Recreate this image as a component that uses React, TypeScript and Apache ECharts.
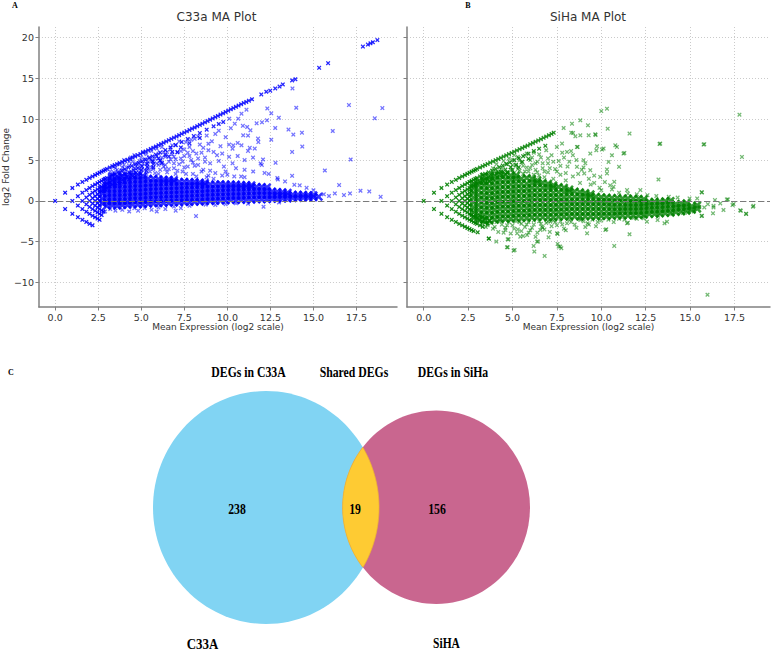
import React, { useEffect, useRef } from 'react';
import * as echarts from 'echarts';

// ---------- axis ticks ----------
const xTicks = [0, 2.5, 5, 7.5, 10, 12.5, 15, 17.5];
const yTicks = [-10, -5, 0, 5, 10, 15, 20];

// ---------- C33a (panel A) ----------
const c33aCore = [
  [2.75,-0.3],[2.75,0.3],[2.75,0.9],[2.75,1.5],
  [3.0,-0.6],[3.0,-0.1],[3.0,0.4],[3.0,0.9],[3.0,1.4],[3.0,1.9],[3.0,2.4],
  [3.3,-0.5],[3.3,0.0],[3.3,0.5],[3.3,1.0],[3.3,1.5],[3.3,2.0],[3.3,2.5],[3.3,2.95],
  [3.6,-0.6],[3.6,-0.1],[3.6,0.4],[3.6,0.9],[3.6,1.4],[3.6,1.9],[3.6,2.4],[3.6,2.9],
  [3.9,-0.5],[3.9,0.0],[3.9,0.5],[3.9,1.0],[3.9,1.5],[3.9,2.0],[3.9,2.5],[3.9,3.05],
  [4.2,-0.5],[4.2,-0.05],[4.2,0.45],[4.2,0.95],[4.2,1.45],[4.2,1.95],[4.2,2.45],[4.2,2.95],
  [4.5,-0.4],[4.5,0.1],[4.5,0.6],[4.5,1.1],[4.5,1.6],[4.5,2.1],[4.5,2.6],[4.5,3.1],
  [4.8,-0.45],[4.8,0.05],[4.8,0.55],[4.8,1.05],[4.8,1.55],[4.8,2.05],[4.8,2.55],[4.8,3.0],
  [5.1,-0.4],[5.1,0.1],[5.1,0.6],[5.1,1.1],[5.1,1.6],[5.1,2.1],[5.1,2.6],[5.1,3.05],
  [5.4,-0.35],[5.4,0.15],[5.4,0.65],[5.4,1.15],[5.4,1.65],[5.4,2.15],[5.4,2.7],
  [5.7,-0.3],[5.7,0.2],[5.7,0.7],[5.7,1.2],[5.7,1.7],[5.7,2.2],[5.7,2.7],
  [6.0,-0.3],[6.0,0.2],[6.0,0.7],[6.0,1.2],[6.0,1.7],[6.0,2.2],[6.0,2.65],
  [6.3,-0.25],[6.3,0.25],[6.3,0.75],[6.3,1.25],[6.3,1.75],[6.3,2.25],[6.3,2.6],
  [6.6,-0.25],[6.6,0.25],[6.6,0.75],[6.6,1.25],[6.6,1.75],[6.6,2.25],[6.6,2.6],
  [6.9,-0.2],[6.9,0.3],[6.9,0.8],[6.9,1.3],[6.9,1.8],[6.9,2.3],[6.9,2.55],
  [7.2,-0.2],[7.2,0.3],[7.2,0.8],[7.2,1.3],[7.2,1.8],[7.2,2.3],
  [7.5,-0.15],[7.5,0.35],[7.5,0.85],[7.5,1.35],[7.5,1.85],[7.5,2.35],
  [7.8,-0.15],[7.8,0.35],[7.8,0.85],[7.8,1.35],[7.8,1.85],[7.8,2.3],
  [8.1,-0.1],[8.1,0.4],[8.1,0.9],[8.1,1.4],[8.1,1.9],[8.1,2.3],
  [8.4,-0.1],[8.4,0.4],[8.4,0.9],[8.4,1.4],[8.4,1.9],[8.4,2.25],
  [8.7,-0.05],[8.7,0.45],[8.7,0.95],[8.7,1.45],[8.7,1.95],[8.7,2.2],
  [9.0,0.0],[9.0,0.5],[9.0,1.0],[9.0,1.5],[9.0,2.0],
  [9.3,0.0],[9.3,0.5],[9.3,1.0],[9.3,1.5],[9.3,2.0],
  [9.6,0.05],[9.6,0.55],[9.6,1.05],[9.6,1.55],[9.6,2.05],
  [9.9,0.05],[9.9,0.55],[9.9,1.05],[9.9,1.55],[9.9,2.0],
  [10.2,0.1],[10.2,0.6],[10.2,1.1],[10.2,1.6],[10.2,2.0],
  [10.5,0.1],[10.5,0.6],[10.5,1.1],[10.5,1.6],[10.5,2.0],
  [10.8,0.1],[10.8,0.6],[10.8,1.1],[10.8,1.6],[10.8,1.95],
  [11.1,0.15],[11.1,0.65],[11.1,1.15],[11.1,1.65],[11.1,1.95],
  [11.4,0.15],[11.4,0.65],[11.4,1.15],[11.4,1.65],[11.4,1.9],
  [11.7,0.2],[11.7,0.7],[11.7,1.2],[11.7,1.7],
  [12.0,0.2],[12.0,0.7],[12.0,1.2],[12.0,1.7],
  [12.3,0.2],[12.3,0.7],[12.3,1.2],[12.3,1.65],
  [12.6,0.25],[12.6,0.7],[12.6,1.15],
  [12.9,0.25],[12.9,0.7],[12.9,1.1],
  [13.2,0.3],[13.2,0.7],[13.2,1.05],
  [13.5,0.3],[13.5,0.7],[13.5,1.0],
  [13.8,0.35],[13.8,0.75],
  [14.1,0.35],[14.1,0.75],
  [14.4,0.4],[14.4,0.75],
  [14.7,0.4],[14.7,0.7],
  [15.0,0.45],[15.0,0.7],
  [15.3,0.5]
];

const c33aLattice = [
  [0,0],
  [0.58,1.0],[0.58,-1.0],
  [1.0,1.58],[1.0,0],[1.0,-1.58],
  [1.32,2.0],[1.32,0.58],[1.32,-0.58],[1.32,-2.0],
  [1.58,2.32],[1.58,1.0],[1.58,0],[1.58,-1.0],[1.58,-2.32],
  [1.81,2.58],[1.81,1.32],[1.81,0.42],[1.81,-0.42],[1.81,-1.32],[1.81,-2.58],
  [2.0,2.81],[2.0,1.58],[2.0,0.74],[2.0,0],[2.0,-0.74],[2.0,-1.58],[2.0,-2.81],
  [2.17,3.0],[2.17,1.81],[2.17,1.0],[2.17,0.32],[2.17,-0.32],[2.17,-1.0],[2.17,-1.81],[2.17,-3.0],
  [2.32,3.17],[2.32,2.0],[2.32,1.22],[2.32,0.58],[2.32,0],[2.32,-0.58],[2.32,-1.22],[2.32,-2.0],
  [2.46,3.32],[2.46,2.17],[2.46,1.42],[2.46,0.81],[2.46,0.26],[2.46,-0.26],[2.46,-0.81],[2.46,-1.42],[2.46,-2.17],
  [2.58,3.46],[2.58,2.32],[2.58,1.58],[2.58,1.0],[2.58,0.49],[2.58,0],[2.58,-0.49],[2.58,-1.0],[2.58,-1.58],[2.58,-2.32],
  [2.7,3.58],[2.7,2.46],[2.7,1.74],[2.7,1.17],[2.7,-1.17],[2.7,-1.74],
  [2.81,3.7],[2.81,2.58],[2.81,1.87],[2.81,1.32],[2.81,-1.32],
  [2.91,3.81],[2.91,2.7],[2.91,2.0],[2.91,1.46]
];

const c33aLines = [
  // top diagonal
  [3.0,3.91],[3.17,4.09],[3.32,4.25],[3.46,4.39],[3.6,4.5],[3.75,4.64],[3.9,4.77],[4.05,4.9],[4.2,5.04],[4.35,5.17],
  [4.5,5.31],[4.65,5.45],[4.8,5.6],[4.95,5.75],[5.1,5.9],[5.25,6.05],[5.4,6.2],[5.55,6.36],[5.7,6.51],[5.85,6.66],
  [6.0,6.82],[6.15,6.97],[6.3,7.12],[6.45,7.28],[6.6,7.43],[6.75,7.59],[6.9,7.74],[7.05,7.9],[7.2,8.05],[7.35,8.21],
  [7.5,8.37],[7.65,8.52],[7.8,8.68],[7.95,8.84],[8.1,8.99],[8.25,9.15],[8.4,9.31],[8.55,9.46],[8.7,9.62],[8.85,9.78],
  [9.0,9.94],[9.15,10.1],[9.3,10.26],[9.45,10.41],[9.6,10.57],[9.75,10.73],[9.9,10.89],[10.05,11.05],[10.2,11.21],
  [10.35,11.37],[10.5,11.52],[10.65,11.68],[10.8,11.84],[10.95,12.0],[11.1,12.12],[11.25,12.28],[11.43,12.45],
  [11.97,13.04],[12.26,13.37],[12.49,13.5],[12.78,13.77],[13.03,14.0],[13.22,14.26],[13.76,14.75],[13.95,14.9],
  [15.33,16.3],[15.85,16.87],[17.87,18.9],[18.16,19.15],[18.31,19.3],[18.45,19.43],[18.71,19.7],
  // second diagonal
  [3.0,2.81],[3.17,3.0],[3.32,3.17],[3.46,3.32],[3.65,3.5],[3.85,3.7],[4.05,3.9],[4.25,4.1],[4.45,4.28],[4.65,4.45],
  [4.85,4.65],[5.05,4.85],[5.25,5.05],[5.45,5.25],[5.65,5.45],[5.85,5.66],[6.1,5.92],[6.4,6.22],[6.7,6.54],[7.0,6.85],
  [7.35,7.21],[7.7,7.58],[8.05,7.94],[8.4,8.31],[8.8,8.72],[9.2,9.13],[9.5,9.42],[9.76,9.66],
  // third diagonal
  [3.0,2.12],[3.17,2.32],[3.32,2.5],[3.46,2.66],[3.65,2.85],[3.85,3.05],[4.05,3.25],[4.3,3.5],[4.55,3.75],[4.8,4.0],
  [5.05,4.25],[5.35,4.55],[5.65,4.85],[6.0,5.2],[6.4,5.62],[6.8,6.0],[7.3,6.55],[7.8,7.05],[8.4,7.7],
  // fourth diagonal
  [3.0,1.58],[3.17,1.81],[3.32,2.0],[3.46,2.17],[3.7,2.43],[3.91,2.66],[4.15,2.9],[4.4,3.15],[4.7,3.45],[5.0,3.8],
  [5.35,4.15],[5.7,4.5],[6.1,4.9],[6.6,5.45],[7.1,5.95],
  // fifth diagonal
  [3.5,1.85],[3.75,2.1],[4.0,2.35],[4.3,2.65],[4.6,2.95],[4.95,3.3],[5.3,3.7],[5.7,4.1],[6.2,4.6]
];

const c33aScatter = [
  [3.4,3.5],[3.6,3.8],[3.8,3.4],[3.9,4.1],[4.1,3.7],[4.3,4.3],[4.4,3.6],[4.6,4.0],[4.7,4.6],[4.9,3.5],
  [4.9,4.9],[5.0,4.2],[5.2,3.8],[5.2,5.1],[5.3,4.5],[5.5,3.6],[5.5,5.3],[5.6,4.1],[5.7,4.8],[5.8,3.4],
  [5.9,5.5],[6.0,4.4],[6.1,3.8],[6.1,5.0],[6.3,6.0],[6.3,4.2],[6.4,5.4],[6.5,3.5],[6.6,4.8],[6.7,6.3],
  [6.8,5.7],[6.9,4.0],[7.0,5.1],[7.0,6.8],[7.2,4.5],[7.3,6.1],[7.4,3.6],[7.5,5.5],[7.6,7.2],[7.7,4.2],
  [7.8,6.6],[7.9,5.0],[8.0,3.3],[8.1,7.6],[8.2,5.8],[8.3,4.4],[8.4,6.9],[8.6,3.8],[8.7,5.3],[8.8,8.0],
  [8.9,6.2],[9.0,4.6],[9.1,7.3],[9.3,3.4],[9.4,5.6],[9.5,8.6],[9.6,6.7],[9.8,4.2],[9.9,7.8],[10.0,3.2],
  [10.1,5.4],[10.2,8.9],[10.3,6.4],[10.5,4.0],[10.6,7.1],[10.8,3.0],[10.9,9.2],[11.0,5.0],[11.2,8.0],[11.3,6.5],
  [11.5,3.6],[11.7,9.5],[11.8,7.2],[12.0,4.4],
  [3.3,3.2],[3.5,4.0],[3.7,3.3],[4.0,4.4],[4.2,3.3],[4.5,4.8],[4.8,3.3],[5.0,5.3],[5.4,4.0],[5.6,5.0],
  [5.9,4.6],[6.2,5.3],[6.4,3.9],[6.9,5.4],[7.1,3.7],[7.4,4.8],[7.7,5.9],[8.0,4.7],[8.5,5.9],[8.9,3.1],
  [3.2,3.6],[3.4,4.2],[3.6,3.1],[3.7,4.5],[3.9,3.7],[4.0,5.0],[4.1,3.2],[4.3,4.8],[4.4,5.3],[4.5,3.4],
  [4.6,5.6],[4.7,3.9],[4.8,4.4],[5.0,3.7],[5.1,4.6],[5.1,6.0],[5.3,3.3],[5.3,5.7],[5.4,4.8],[5.6,6.1],
  [5.7,3.9],[5.8,5.2],[5.9,6.4],[6.0,3.3],[6.0,5.8],[6.2,4.7],[6.2,6.6],[6.4,4.4],[6.5,6.0],[6.6,3.9],
  [6.7,5.1],[6.8,6.8],[6.9,4.6],[7.0,3.3],[7.1,6.0],[7.2,7.3],[7.3,5.2],[7.5,4.1],[7.5,6.3],[7.6,3.3],
  [7.8,5.5],[7.9,7.5],[8.0,6.1],[8.1,4.3],[8.3,5.2],[8.3,7.9],[8.5,3.6],[8.6,6.5],[8.7,4.8],[8.9,7.0],
  [9.0,3.7],[9.2,6.0],[9.3,8.2],[9.5,4.9],[9.7,5.8],[9.9,3.6],[10.1,6.9],[10.3,4.6],[10.6,5.5],[11.0,3.8],
  [11.11,11.17],[10.82,10.68],[10.63,10.07],[10.11,10.07],[10.43,9.46],[11.15,9.05],[10.92,8.03],[11.34,8.64],
  [11.78,7.63],[11.59,6.41],[11.2,6.12],[10.82,6.81],[10.34,6.81],[11.93,4.58],[11.49,5.31],[12.16,3.43],[12.93,2.62],
  [12.07,5.07],[12.3,9.87],[12.01,9.62],[12.78,8.93],[12.55,7.5],[12.32,11.33],[12.55,10.72],[12.99,10.19],
  [12.8,4.66],[13.55,8.73],[13.83,8.12],[14.33,8.36],[14.35,6.65],[13.76,6.0],[13.76,3.07],[13.89,1.97],[13.35,2.38],
  [13.78,13.77],[14.0,11.41],[17.06,11.74],[18.56,10.11],[19.0,11.37],[16.12,8.56],[17.16,5.07],[15.66,3.72],
  [16.49,1.93],[17.73,1.24],[18.24,1.16],[18.9,0.5],[17.12,0.91],[16.77,0.71],[16.24,0.91],[15.9,0.6],[15.6,0.8],
  [15.0,1.3],[14.6,1.6],[14.2,1.9],[12.9,2.8],[12.4,3.3],[11.0,2.9],[10.4,3.0],[9.7,3.1],[9.2,2.7],[8.8,2.9],[8.2,3.0],
  [3.2,-1.0],[3.5,-1.2],[3.9,-1.1],[4.3,-1.3],[4.82,-1.2],[5.2,-0.9],[5.6,-1.1],[6.0,-0.8],[6.4,-1.0],[6.9,-0.7],
  [7.3,-0.9],[7.8,-0.6],[8.18,-1.86],[8.74,-0.47],[9.3,-0.5],[9.9,-0.4],[10.5,-0.3],[11.2,-0.35],[12.1,-0.72],
  [13.0,-0.2],[2.9,-1.3],[4.6,-0.9],[5.9,-1.3],[7.0,-1.2]
];

// ---------- SiHa (panel B) ----------
const sihaCore = [
  [2.8,-2.0],[2.8,-1.4],[2.8,-0.8],[2.8,-0.2],[2.8,0.4],[2.8,1.0],[2.8,1.6],[2.8,2.1],
  [3.1,-2.3],[3.1,-1.7],[3.1,-1.1],[3.1,-0.5],[3.1,0.1],[3.1,0.7],[3.1,1.3],[3.1,1.9],[3.1,2.4],
  [3.4,-2.3],[3.4,-1.7],[3.4,-1.1],[3.4,-0.5],[3.4,0.1],[3.4,0.7],[3.4,1.3],[3.4,1.9],[3.4,2.5],[3.4,3.0],
  [3.7,-2.4],[3.7,-1.8],[3.7,-1.2],[3.7,-0.6],[3.7,0.0],[3.7,0.6],[3.7,1.2],[3.7,1.8],[3.7,2.4],[3.7,3.0],
  [4.0,-2.3],[4.0,-1.7],[4.0,-1.1],[4.0,-0.5],[4.0,0.1],[4.0,0.7],[4.0,1.3],[4.0,1.9],[4.0,2.5],[4.0,3.1],
  [4.3,-2.2],[4.3,-1.6],[4.3,-1.0],[4.3,-0.4],[4.3,0.2],[4.3,0.8],[4.3,1.4],[4.3,2.0],[4.3,2.6],[4.3,3.2],
  [4.6,-2.2],[4.6,-1.6],[4.6,-1.0],[4.6,-0.4],[4.6,0.2],[4.6,0.8],[4.6,1.4],[4.6,2.0],[4.6,2.6],[4.6,3.2],
  [4.9,-2.2],[4.9,-1.6],[4.9,-1.0],[4.9,-0.4],[4.9,0.2],[4.9,0.8],[4.9,1.4],[4.9,2.0],[4.9,2.6],[4.9,3.1],
  [5.2,-2.1],[5.2,-1.5],[5.2,-0.9],[5.2,-0.3],[5.2,0.3],[5.2,0.9],[5.2,1.5],[5.2,2.1],[5.2,2.7],[5.2,3.1],
  [5.5,-2.1],[5.5,-1.5],[5.5,-0.9],[5.5,-0.3],[5.5,0.3],[5.5,0.9],[5.5,1.5],[5.5,2.1],[5.5,2.7],
  [5.8,-2.1],[5.8,-1.5],[5.8,-0.9],[5.8,-0.3],[5.8,0.3],[5.8,0.9],[5.8,1.5],[5.8,2.1],[5.8,2.8],
  [6.1,-2.0],[6.1,-1.4],[6.1,-0.8],[6.1,-0.2],[6.1,0.4],[6.1,1.0],[6.1,1.6],[6.1,2.2],[6.1,2.7],
  [6.4,-2.0],[6.4,-1.4],[6.4,-0.8],[6.4,-0.2],[6.4,0.4],[6.4,1.0],[6.4,1.6],[6.4,2.2],[6.4,2.5],
  [6.7,-2.0],[6.7,-1.4],[6.7,-0.8],[6.7,-0.2],[6.7,0.4],[6.7,1.0],[6.7,1.6],[6.7,2.2],
  [7.0,-2.0],[7.0,-1.4],[7.0,-0.8],[7.0,-0.2],[7.0,0.4],[7.0,1.0],[7.0,1.6],[7.0,2.1],
  [7.3,-2.0],[7.3,-1.4],[7.3,-0.8],[7.3,-0.2],[7.3,0.4],[7.3,1.0],[7.3,1.6],[7.3,1.9],
  [7.6,-1.95],[7.6,-1.35],[7.6,-0.75],[7.6,-0.15],[7.6,0.45],[7.6,1.05],[7.6,1.7],
  [7.9,-1.95],[7.9,-1.35],[7.9,-0.75],[7.9,-0.15],[7.9,0.45],[7.9,1.05],[7.9,1.6],
  [8.2,-1.9],[8.2,-1.3],[8.2,-0.7],[8.2,-0.1],[8.2,0.5],[8.2,1.1],[8.2,1.4],
  [8.5,-1.9],[8.5,-1.3],[8.5,-0.7],[8.5,-0.1],[8.5,0.5],[8.5,1.15],
  [8.8,-1.9],[8.8,-1.3],[8.8,-0.7],[8.8,-0.1],[8.8,0.5],[8.8,1.05],
  [9.1,-1.9],[9.1,-1.3],[9.1,-0.7],[9.1,-0.1],[9.1,0.5],[9.1,0.95],
  [9.4,-1.9],[9.4,-1.3],[9.4,-0.7],[9.4,-0.1],[9.4,0.5],[9.4,0.8],
  [9.7,-1.9],[9.7,-1.3],[9.7,-0.7],[9.7,-0.1],[9.7,0.5],
  [10.0,-1.85],[10.0,-1.3],[10.0,-0.7],[10.0,-0.1],[10.0,0.45],
  [10.3,-1.85],[10.3,-1.3],[10.3,-0.7],[10.3,-0.15],[10.3,0.4],
  [10.6,-1.85],[10.6,-1.3],[10.6,-0.75],[10.6,-0.2],[10.6,0.35],
  [10.9,-1.8],[10.9,-1.3],[10.9,-0.75],[10.9,-0.2],[10.9,0.35],
  [11.2,-1.8],[11.2,-1.25],[11.2,-0.75],[11.2,-0.2],[11.2,0.3],
  [11.5,-1.8],[11.5,-1.25],[11.5,-0.75],[11.5,-0.25],[11.5,0.3],
  [11.8,-1.75],[11.8,-1.25],[11.8,-0.75],[11.8,-0.25],[11.8,0.25],
  [12.1,-1.75],[12.1,-1.25],[12.1,-0.75],[12.1,-0.25],[12.1,0.25],
  [12.4,-1.7],[12.4,-1.2],[12.4,-0.7],[12.4,-0.25],[12.4,0.2],
  [12.7,-1.6],[12.7,-1.1],[12.7,-0.6],[12.7,-0.15],
  [13.0,-1.6],[13.0,-1.1],[13.0,-0.6],[13.0,-0.1],
  [13.3,-1.55],[13.3,-1.05],[13.3,-0.55],[13.3,-0.1],
  [13.6,-1.5],[13.6,-1.0],[13.6,-0.5],[13.6,-0.05],
  [13.9,-1.45],[13.9,-0.95],[13.9,-0.45],[13.9,0.0],
  [14.2,-1.35],[14.2,-0.85],[14.2,-0.4],
  [14.5,-1.3],[14.5,-0.8],[14.5,-0.35],
  [14.8,-1.2],[14.8,-0.75],[14.8,-0.3],
  [15.1,-1.1],[15.1,-0.65],
  [15.4,-0.95],[15.4,-0.55]
];

const sihaLattice = [
  [0,0],
  [0.58,1.0],[0.58,-1.0],
  [1.0,1.58],[1.0,0],[1.0,-1.58],
  [1.32,2.0],[1.32,0.58],[1.32,-0.58],[1.32,-2.0],
  [1.58,2.32],[1.58,1.0],[1.58,0],[1.58,-1.0],[1.58,-2.32],
  [1.81,2.58],[1.81,1.32],[1.81,0.42],[1.81,-0.42],[1.81,-1.32],[1.81,-2.58],
  [2.0,2.81],[2.0,1.58],[2.0,0.74],[2.0,0],[2.0,-0.74],[2.0,-1.58],[2.0,-2.81],
  [2.17,3.0],[2.17,1.81],[2.17,1.0],[2.17,0.32],[2.17,-0.32],[2.17,-1.0],[2.17,-1.81],[2.17,-3.0],
  [2.32,3.17],[2.32,2.0],[2.32,1.22],[2.32,0.58],[2.32,0],[2.32,-0.58],[2.32,-1.22],[2.32,-2.0],[2.32,-3.17],
  [2.46,3.32],[2.46,2.17],[2.46,1.42],[2.46,0.81],[2.46,0.26],[2.46,-0.26],[2.46,-0.81],[2.46,-1.42],[2.46,-2.17],[2.46,-3.32],
  [2.58,3.46],[2.58,2.32],[2.58,1.58],[2.58,1.0],[2.58,0.49],[2.58,0],[2.58,-0.49],[2.58,-1.0],[2.58,-1.58],[2.58,-2.32],[2.58,-3.46],
  [2.7,3.58],[2.7,2.46],[2.7,1.74],[2.7,1.17],[2.7,-1.17],[2.7,-1.74],[2.7,-2.46],[2.7,-3.58],
  [2.81,3.7],[2.81,2.58],[2.81,1.87],[2.81,-1.87],[2.81,-2.58],[2.81,-3.7],
  [2.91,3.81],[2.91,2.7],[2.91,2.0],[2.91,-2.0],[2.91,-2.7],
  [3.0,-2.12],[3.0,-2.81],[3.04,-3.85],[3.17,-2.32],[3.17,-3.0],[3.32,-2.5],[3.32,-3.17],[3.46,-2.66],[3.66,-4.62],
  [3.17,-1.81],[3.32,-2.0],[3.46,-2.17],[3.6,-2.8],[3.7,-2.43]
];

const sihaLines = [
  // top diagonal
  [3.0,3.91],[3.17,4.09],[3.32,4.25],[3.46,4.39],[3.6,4.53],[3.75,4.68],[3.9,4.83],[4.05,4.98],[4.2,5.13],[4.35,5.28],
  [4.5,5.43],[4.65,5.58],[4.8,5.73],[4.95,5.88],[5.1,6.03],[5.25,6.18],[5.4,6.33],[5.55,6.48],[5.7,6.63],[5.85,6.78],
  [6.0,6.94],[6.15,7.09],[6.3,7.25],[6.45,7.4],[6.6,7.56],[6.75,7.72],[6.9,7.88],[7.05,8.04],[7.2,8.2],[7.32,8.36],
  // second diagonal
  [3.0,2.81],[3.17,3.0],[3.32,3.17],[3.46,3.32],[3.65,3.5],[3.85,3.7],[4.05,3.92],[4.25,4.12],[4.45,4.32],[4.65,4.52],
  [4.85,4.72],[5.1,4.98],[5.35,5.23],[5.6,5.48],[5.9,5.78],[6.2,6.1],[6.5,6.4],[6.85,6.75],
  // third diagonal
  [3.0,2.12],[3.17,2.32],[3.32,2.5],[3.46,2.66],[3.65,2.87],[3.85,3.07],[4.1,3.32],[4.35,3.57],[4.6,3.83],[4.9,4.13],
  [5.2,4.43],[5.55,4.78],[5.9,5.15],
  // fourth diagonal
  [3.46,2.17],[3.7,2.43],[3.91,2.66],[4.15,2.9],[4.4,3.15],[4.7,3.45],[5.0,3.78],[5.35,4.13]
];

const sihaScatter = [
  [10.0,11.0],[10.32,11.29],[17.78,10.56],[17.92,5.39],[15.8,6.94],[13.32,7.02],[11.59,8.24],[13.22,2.62],[15.65,1.07],
  [10.36,8.85],[9.25,9.25],[8.82,9.87],[8.35,9.46],[7.88,8.93],[8.31,8.36],[8.82,8.03],[9.29,8.03],[9.66,8.16],
  [9.76,6.69],[10.04,6.29],[10.79,6.81],[11.3,5.88],[11.0,4.17],[10.6,5.59],[10.32,3.85],[9.94,2.94],[8.63,6.61],
  [9.0,4.98],[9.38,3.76],[10.69,1.72],[11.45,1.32],[12.2,1.32],[14.97,0.3],[17.07,0.18],[17.39,-0.51],[17.86,-1.21],
  [18.16,-1.61],[18.54,-0.72],[16.7,-0.31],[16.32,-0.8],[15.65,-1.86],[14.86,-1.45],[13.56,-2.75],[13.17,-2.35],
  [11.59,-4.09],[10.28,-3.48],[10.73,-5.52],[11.5,-2.67],[12.38,-2.14],[6.81,-6.74],[6.19,-5.52],[6.23,-6.21],
  [5.06,-6.09],[4.73,-5.68],[4.73,-4.7],[5.44,-4.38],[5.91,-3.89],[6.44,-4.99],[7.03,-4.46],[7.54,-4.05],[7.69,-5.6],
  [7.54,-5.27],[6.66,-3.16],[7.13,-2.55],[8.07,-2.75],[9.23,-2.75],[8.82,-2.35],[4.6,-3.56],
  [8.41,8.32],[8.54,7.91],[9.68,8.07],[13.28,6.97],[15.76,6.9],[7.79,7.02],[8.07,6.0],[8.67,6.61],[9.38,5.8],
  [10.13,6.41],[9.72,6.2],[10.41,4.77],[10.88,6.61],[11.25,5.8],[10.73,2.33],[9.04,3.36],[8.63,4.17],[10.32,3.36],
  [5.12,-6.01],[4.69,-5.68],[7.6,-5.6],[7.75,-5.8],[6.38,-4.99],[4.78,-4.7],[4.09,-4.99],[3.68,-4.62],
  [5.26,-3.97],[5.82,-4.18],[6.57,-3.56],[7.51,-3.97],[9.2,-3.97],[10.23,-3.56],[11.45,-2.75],[12.57,-2.55],
  [13.7,-2.55],[15.67,-1.82],[16.29,-1.53],[16.88,-1.12],[17.13,0.18],[17.45,-0.39],[17.82,-1.16],[18.15,-1.57],
  [18.57,-0.6],[15.67,1.04],[16.32,-0.6],[15.98,-11.5],
  [4.2,3.5],[4.4,4.0],[4.6,3.3],[4.7,4.5],[4.9,3.8],[5.0,5.0],[5.1,3.4],[5.2,4.3],[5.3,5.4],[5.4,3.7],
  [5.5,4.7],[5.6,3.3],[5.7,5.6],[5.8,4.1],[5.9,3.6],[6.0,5.0],[6.1,4.4],[6.2,3.2],[6.2,5.9],[6.3,3.8],
  [6.4,4.8],[6.5,3.1],[6.6,5.3],[6.7,4.0],[6.8,2.9],[6.9,6.2],[7.0,3.5],[7.0,4.6],[7.2,5.6],[7.3,2.7],
  [7.4,3.9],[7.5,6.6],[7.6,4.9],[7.7,3.2],[7.9,5.3],[8.0,2.5],[8.1,4.2],[8.3,6.1],[8.4,3.0],[8.6,5.0],
  [8.8,2.2],[8.9,3.8],[9.1,4.6],[9.4,2.0],[9.6,3.1],[9.9,1.6],[10.2,2.3],[10.6,1.4],[11.0,1.0],[11.5,0.9],
  [12.0,0.8],[12.6,0.7],[13.1,0.6],[13.8,0.5],[14.3,0.4],[4.0,3.6],[3.8,3.3],[4.5,3.0],
  [3.9,4.0],[4.1,4.5],[4.3,3.6],[4.5,4.9],[4.7,3.5],[4.8,5.2],[5.0,4.4],[5.1,5.6],[5.3,3.9],[5.4,5.0],
  [5.6,4.3],[5.7,3.6],[5.8,5.8],[6.0,4.0],[6.1,5.3],[6.3,4.6],[6.4,3.5],[6.5,5.7],[6.7,4.6],[6.8,3.6],
  [7.0,5.2],[7.1,4.0],[7.3,4.8],[7.5,3.6],[7.7,4.3],[7.8,5.9],[8.0,3.4],[8.2,4.8],[8.4,5.6],[8.7,3.3],
  [9.0,4.1],[9.3,2.7],[9.6,2.2],[10.0,1.3],[10.5,1.9],
  [3.3,-2.8],[3.5,-3.2],[3.8,-2.7],[3.9,-3.4],[4.1,-2.6],[4.2,-3.8],[4.4,-2.9],[4.6,-3.3],[4.8,-2.6],[4.9,-4.0],
  [5.0,-3.0],[5.2,-2.5],[5.3,-3.5],[5.5,-2.8],[5.6,-4.3],[5.7,-3.2],[5.9,-2.6],[6.0,-3.6],[6.2,-2.9],[6.3,-4.4],
  [6.5,-2.5],[6.7,-3.3],[6.9,-2.7],[7.1,-3.8],[7.3,-2.4],[7.5,-3.0],[7.7,-2.5],[7.9,-3.4],[8.2,-2.3],[8.5,-2.9],
  [8.8,-2.2],[9.1,-3.2],[9.5,-2.3],[9.8,-2.6],[10.4,-2.3],[11.0,-2.2],[11.8,-2.1],[12.4,-1.9],[13.2,-1.8],[14.0,-1.6],
  [14.6,-1.5],[15.2,-1.3],[15.8,-0.8],[16.0,-0.4],[15.4,0.3],[16.4,0.1],
  [3.6,-3.0],[4.0,-3.2],[4.3,-2.5],[4.5,-3.9],[4.7,-3.0],[5.1,-3.4],[5.4,-2.6],[5.5,-3.7],[5.8,-2.9],[6.1,-3.3],
  [6.2,-2.4],[6.4,-3.9],[6.6,-2.8],[6.8,-3.5],[7.0,-2.5],[7.2,-3.1],[7.4,-2.6],[7.8,-2.9],[8.0,-3.6],[8.3,-2.6],
  [8.6,-3.3],[9.0,-2.5],[9.3,-2.9],[9.7,-3.1],[10.0,-2.4],[10.7,-2.6],[11.3,-2.3],[12.0,-2.2]
];

// ---------- Venn (panel C) ----------
const vennCounts = [238, 19, 156];
const vennHeaders = ['DEGs in C33A', 'Shared DEGs', 'DEGs in SiHa'];
const vennSetNames = ['C33A', 'SiHA'];

const FONT = 'DejaVu Sans';
const SERIF = 'Liberation Serif';
const X_SYMBOL = 'path://M0,2L2,0L5,3L8,0L10,2L7,5L10,8L8,10L5,7L2,10L0,8L3,5Z';

const fmtY = (v: number) => String(v).replace('-', '\u2212');

function xAxisCfg(gridIndex: number, max: number) {
  return {
    type: 'value', gridIndex, min: -0.94, max,
    name: 'Mean Expression (log2 scale)', nameLocation: 'middle', nameGap: 15,
    nameTextStyle: { fontSize: 9, color: '#333', fontFamily: FONT },
    axisLine: { show: true, onZero: false, lineStyle: { color: '#808080', width: 1.5 } },
    axisTick: { show: true, inside: false, length: 3.5, customValues: xTicks, lineStyle: { color: '#808080', width: 1 } },
    axisLabel: { customValues: xTicks, formatter: (v: number) => v.toFixed(1), fontSize: 9.5, color: '#333', margin: 5, fontFamily: FONT },
    splitLine: { show: true, lineStyle: { type: [1, 2], color: '#bdbdbd', width: 0.8 } },
  };
}
function yAxisCfg(gridIndex: number, labels: boolean) {
  return {
    type: 'value', gridIndex, min: -13.0, max: 21.3,
    name: labels ? 'log2 Fold Change' : '', nameLocation: 'middle', nameGap: 26,
    nameTextStyle: { fontSize: 9, color: '#333', fontFamily: FONT },
    axisLine: { show: true, onZero: false, lineStyle: { color: '#808080', width: 1.5 } },
    axisTick: { show: true, inside: false, length: 3.5, customValues: yTicks, lineStyle: { color: '#808080', width: 1 } },
    axisLabel: { show: labels, customValues: yTicks, formatter: fmtY, fontSize: 9.5, color: '#333', margin: 5, fontFamily: FONT },
    splitLine: { show: true, lineStyle: { type: [1, 2], color: '#bdbdbd', width: 0.8 } },
  };
}

function scatter(idx: number, data: number[][], color: string, size: number, opacity: number, z: number, extra: any = {}) {
  return {
    type: 'scatter', xAxisIndex: idx, yAxisIndex: idx, data, symbol: X_SYMBOL, symbolSize: size,
    symbolKeepAspect: true, silent: true, z,
    itemStyle: { color, opacity }, ...extra,
  };
}
const zeroLine = {
  markLine: {
    silent: true, symbol: 'none', label: { show: false },
    lineStyle: { type: [6, 3], color: '#7a7a7a', width: 1.2 },
    data: [{ yAxis: 0 }],
  },
};

type E = { cx: number; cy: number; rx: number; ry: number };
const inside = (e: E, x: number, y: number) => {
  const dx = (x - e.cx) / e.rx, dy = (y - e.cy) / e.ry;
  return dx * dx + dy * dy <= 1.0001;
};
function lens(a: E, b: E) {
  const pts: number[][] = [];
  for (let i = 0; i < 720; i++) {
    const t = (i * Math.PI) / 360;
    const p1 = [a.cx + a.rx * Math.cos(t), a.cy + a.ry * Math.sin(t)];
    if (inside(b, p1[0], p1[1])) pts.push(p1);
    const p2 = [b.cx + b.rx * Math.cos(t), b.cy + b.ry * Math.sin(t)];
    if (inside(a, p2[0], p2[1])) pts.push(p2);
  }
  const mx = pts.reduce((s, p) => s + p[0], 0) / pts.length;
  const my = pts.reduce((s, p) => s + p[1], 0) / pts.length;
  pts.sort((p, q) => Math.atan2(p[1] - my, p[0] - mx) - Math.atan2(q[1] - my, q[0] - mx));
  return pts;
}

export default function App() {
  const ref = useRef<HTMLDivElement>(null);
  useEffect(() => {
    const chart = echarts.init(ref.current!, null, { renderer: 'svg' });
    const blueE: E = { cx: 266, cy: 507.5, rx: 113, ry: 116.5 };
    const pinkE: E = { cx: 436.3, cy: 507.3, rx: 93.7, ry: 96.7 };
    const txt = (text: string, x: number, y: number, font: string, fill = '#000', scaleX = 1) => ({
      type: 'text', x, y, scaleX, silent: true,
      style: { text, font, fill, textAlign: 'center', textVerticalAlign: 'middle' },
    });
    const option: any = {
      animation: false,
      backgroundColor: '#ffffff',
      textStyle: { fontFamily: FONT },
      grid: [
        { left: 36, top: 27, width: 361, height: 280 },
        { left: 407, top: 27, width: 363, height: 280 },
      ],
      xAxis: [xAxisCfg(0, 19.85), xAxisCfg(1, 19.5)],
      yAxis: [yAxisCfg(0, true), yAxisCfg(1, false)],
      series: [
        scatter(0, c33aCore, '#0000ff', 9, 0.8, 2),
        scatter(0, c33aLattice, '#0000ff', 4.5, 0.9, 3),
        scatter(0, c33aLines, '#0000ff', 4.5, 0.85, 3),
        scatter(0, c33aScatter, '#0000ff', 4.5, 0.55, 4, zeroLine),
        scatter(1, sihaCore, '#008000', 9, 0.8, 2),
        scatter(1, sihaLattice, '#008000', 4.5, 0.9, 3),
        scatter(1, sihaLines, '#008000', 4.5, 0.85, 3),
        scatter(1, sihaScatter, '#008000', 4.5, 0.55, 4, zeroLine),
      ],
      graphic: [
        txt('C33a MA Plot', 216.5, 17, `12px "${FONT}"`, '#333'),
        txt('SiHa MA Plot', 588, 17, `12px "${FONT}"`, '#333'),
        txt('A', 15, 5, `bold 8px "${SERIF}"`),
        txt('B', 468, 5, `bold 8px "${SERIF}"`),
        txt('C', 11, 372, `bold 8px "${SERIF}"`),
        { type: 'ellipse', silent: true, shape: blueE, style: { fill: '#81D4F3' } },
        { type: 'ellipse', silent: true, shape: pinkE, style: { fill: '#C9668F' } },
        { type: 'polygon', silent: true, shape: { points: lens(blueE, pinkE) }, style: { fill: '#FECB33', stroke: '#F0B830', lineWidth: 0.8 } },
        txt(vennHeaders[0], 248.5, 372, `bold 14px "${SERIF}"`, '#000', 0.84),
        txt(vennHeaders[1], 354, 372, `bold 14px "${SERIF}"`, '#000', 0.84),
        txt(vennHeaders[2], 453, 372, `bold 14px "${SERIF}"`, '#000', 0.84),
        txt(String(vennCounts[0]), 237, 509, `bold 14px "${SERIF}"`, '#000', 0.84),
        txt(String(vennCounts[1]), 355, 509, `bold 14px "${SERIF}"`, '#000', 0.84),
        txt(String(vennCounts[2]), 437, 509, `bold 14px "${SERIF}"`, '#000', 0.84),
        txt(vennSetNames[0], 202.5, 644, `bold 15px "${SERIF}"`, '#000', 0.86),
        txt(vennSetNames[1], 446.5, 644, `bold 14px "${SERIF}"`, '#000', 0.82),
      ],
    };
    chart.setOption(option);
    return () => chart.dispose();
  }, []);
  return (
    <div
      ref={ref}
      style={{ position: 'fixed', left: 0, top: 0, width: 771, height: 651, background: '#fff' }}
    />
  );
}
